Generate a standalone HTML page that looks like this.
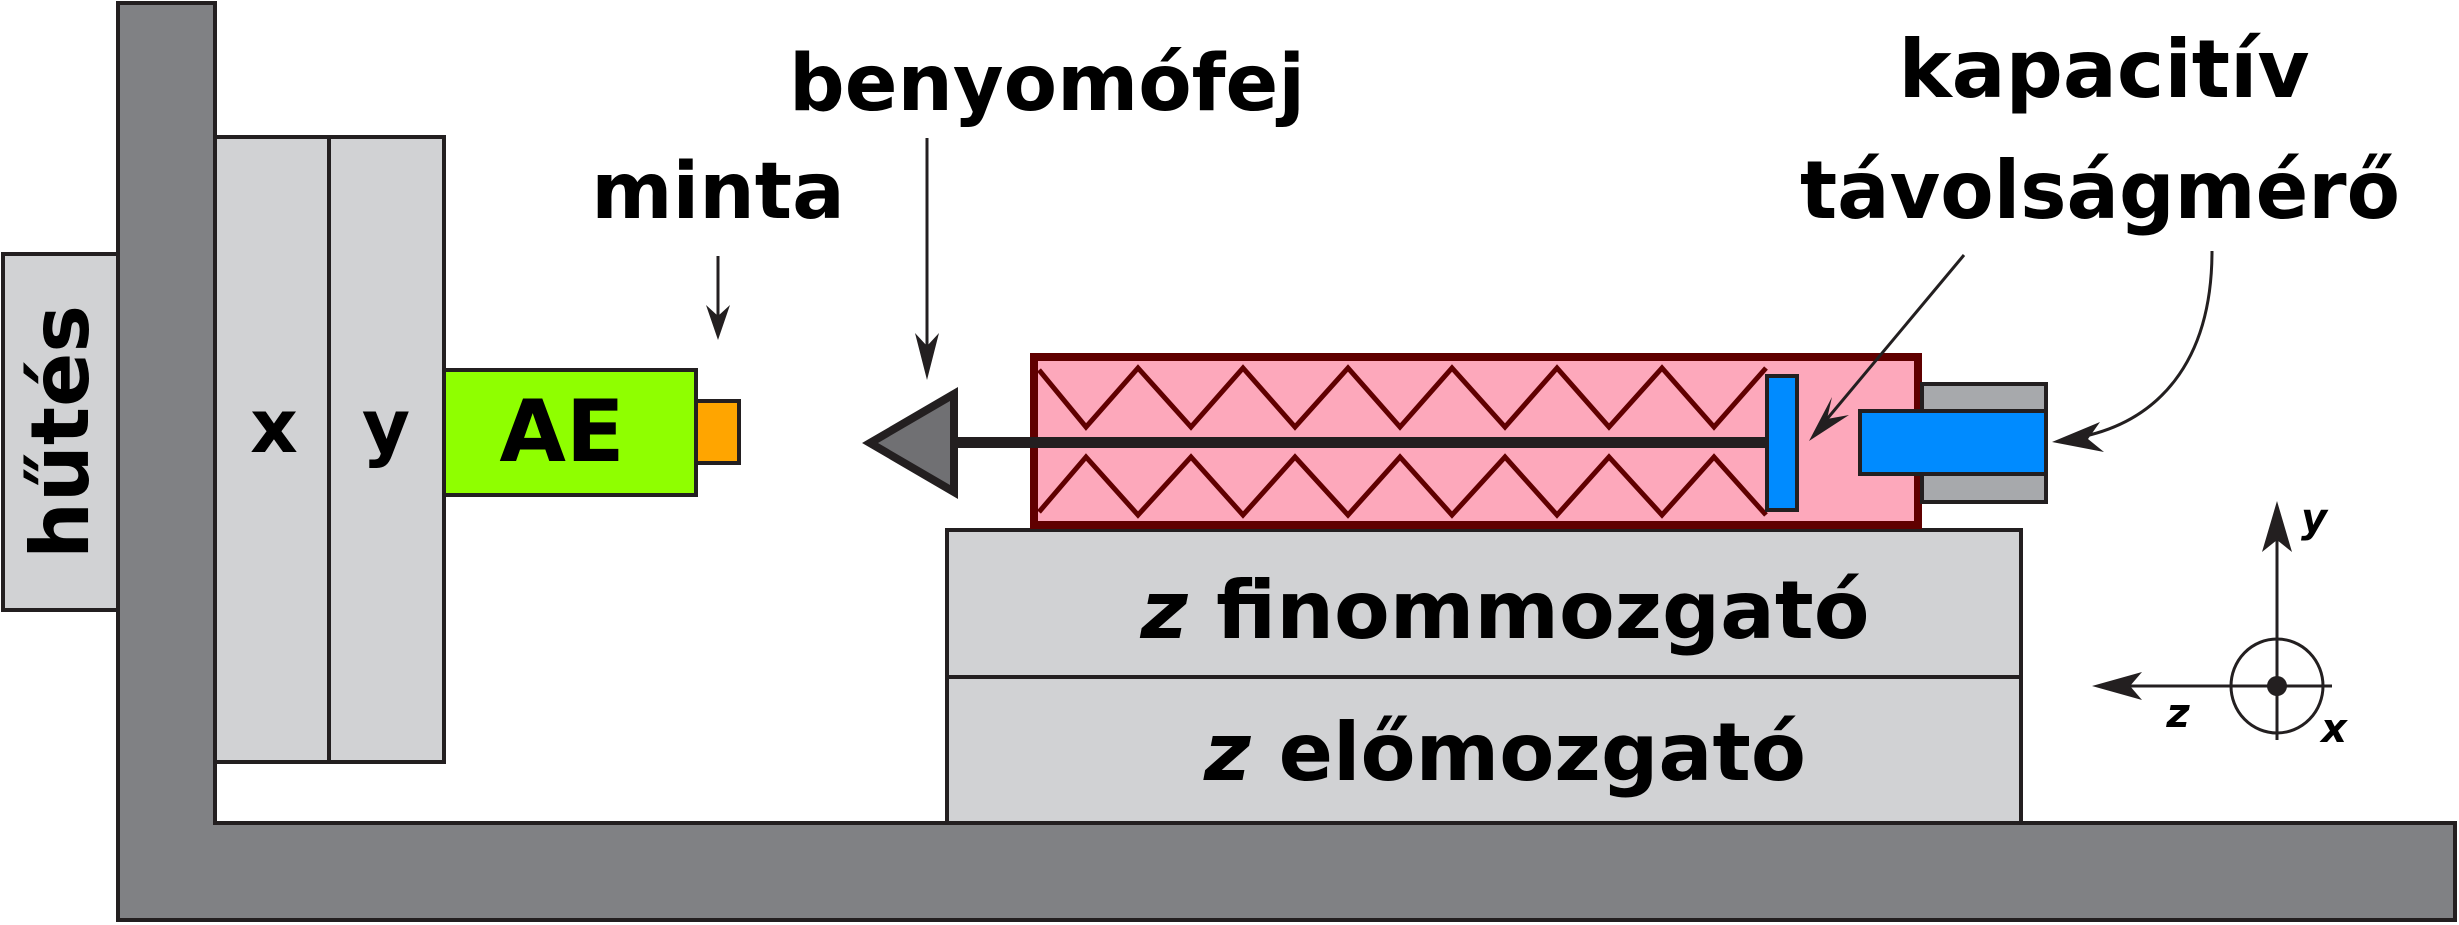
<!DOCTYPE html>
<html><head><meta charset="utf-8"><style>html,body{margin:0;padding:0;background:#fff}svg{display:block}</style></head>
<body>
<svg width="2459" height="925" viewBox="0 0 2459 925" xmlns="http://www.w3.org/2000/svg" font-family="'DejaVu Sans','Liberation Sans',sans-serif" font-weight="bold">
<!-- L frame -->
<path d="M118,3 H215 V823 H2455 V920 H118 Z" fill="#808184" stroke="#231f20" stroke-width="4"/>
<!-- hűtés -->
<rect x="3" y="254" width="115" height="356" fill="#d1d2d4" stroke="#231f20" stroke-width="4"/>
<text transform="translate(88,432) rotate(-90)" text-anchor="middle" font-size="80">hűtés</text>
<!-- x y stages -->
<rect x="215" y="137" width="114" height="625" fill="#d1d2d4" stroke="#231f20" stroke-width="4"/>
<rect x="329" y="137" width="115" height="625" fill="#d1d2d4" stroke="#231f20" stroke-width="4"/>
<text x="274" y="452" text-anchor="middle" font-size="74">x</text>
<text x="386" y="452" text-anchor="middle" font-size="74">y</text>
<!-- AE -->
<rect x="444" y="370" width="252" height="125" fill="#8fff00" stroke="#231f20" stroke-width="4"/>
<text x="562" y="461" text-anchor="middle" font-size="86">AE</text>
<rect x="696" y="401" width="43" height="62" fill="#ffa500" stroke="#231f20" stroke-width="4"/>
<!-- minta -->
<text x="718" y="218" text-anchor="middle" font-size="78">minta</text>
<line x1="718" y1="256" x2="718" y2="325" stroke="#231f20" stroke-width="3"/>
<path d="M718,340 L706,305 L718,316 L730,305 Z" fill="#231f20"/>
<!-- benyomófej -->
<text x="1047" y="110" text-anchor="middle" font-size="78" textLength="516" lengthAdjust="spacingAndGlyphs">benyomófej</text>
<line x1="927" y1="138" x2="927" y2="365" stroke="#231f20" stroke-width="3"/>
<path d="M927,380 L915,333 L927,346 L939,333 Z" fill="#231f20"/>
<!-- z stages -->
<rect x="947" y="530" width="1074" height="147" fill="#d1d2d4" stroke="#231f20" stroke-width="4"/>
<rect x="947" y="677" width="1074" height="146" fill="#d1d2d4" stroke="#231f20" stroke-width="4"/>
<text x="1505" y="638" text-anchor="middle" font-size="80" textLength="729" lengthAdjust="spacingAndGlyphs"><tspan font-style="italic">z</tspan> finommozgató</text>
<text x="1505" y="780" text-anchor="middle" font-size="80" textLength="602" lengthAdjust="spacingAndGlyphs"><tspan font-style="italic">z</tspan> előmozgató</text>
<!-- pink box -->
<rect x="1034" y="357" width="884" height="168" fill="#fda8bb" stroke="#600000" stroke-width="8"/>
<polyline fill="none" stroke="#600000" stroke-width="5" points="1039,370 1086,427 1138,368 1191,427 1243,368 1295,427 1348,368 1400,427 1452,368 1505,427 1557,368 1609,427 1662,368 1714,427 1766,368"/>
<polyline fill="none" stroke="#600000" stroke-width="5" points="1039,512 1086,457 1138,515 1191,457 1243,515 1295,457 1348,515 1400,457 1452,515 1505,457 1557,515 1609,457 1662,515 1714,457 1766,515"/>
<!-- rod -->
<rect x="950" y="437" width="818" height="11" fill="#231f20"/>
<path d="M870,443 L954,394 L954,492 Z" fill="#707073" stroke="#231f20" stroke-width="8"/>
<!-- plate -->
<rect x="1767" y="376" width="30" height="134" fill="#008bff" stroke="#231f20" stroke-width="4"/>
<!-- sensor -->
<rect x="1922" y="384" width="124" height="118" fill="#a7a9ac" stroke="#231f20" stroke-width="4"/>
<rect x="1860" y="411" width="186" height="63" fill="#008bff" stroke="#231f20" stroke-width="4"/>
<!-- kapacitív -->
<text x="2104" y="97" text-anchor="middle" font-size="80">kapacitív</text>
<text x="2100" y="218" text-anchor="middle" font-size="80" textLength="600" lengthAdjust="spacingAndGlyphs">távolságmérő</text>
<line x1="1964" y1="255" x2="1822" y2="425" stroke="#231f20" stroke-width="3"/>
<path d="M1809,441 L1832,397 L1827,419 L1849,415 Z" fill="#231f20"/>
<path d="M2212,251 C2212,360 2160,425 2070,439" fill="none" stroke="#231f20" stroke-width="3"/>
<path d="M2052,442 L2100,422 L2088,439 L2104,452 Z" fill="#231f20"/>
<!-- axes -->
<line x1="2277" y1="740" x2="2277" y2="515" stroke="#231f20" stroke-width="3"/>
<path d="M2277,501 L2292,552 L2277,540 L2262,552 Z" fill="#231f20"/>
<line x1="2332" y1="686" x2="2105" y2="686" stroke="#231f20" stroke-width="3"/>
<path d="M2092,686 L2142,672 L2130,686 L2142,700 Z" fill="#231f20"/>
<ellipse cx="2277" cy="686" rx="46" ry="47" fill="none" stroke="#231f20" stroke-width="3"/>
<circle cx="2277" cy="686" r="10" fill="#231f20"/>
<text x="2314" y="532" text-anchor="middle" font-size="40" font-style="italic">y</text>
<text x="2178" y="727" text-anchor="middle" font-size="40" font-style="italic">z</text>
<text x="2334" y="742" text-anchor="middle" font-size="40" font-style="italic">x</text>
</svg>
</body></html>
